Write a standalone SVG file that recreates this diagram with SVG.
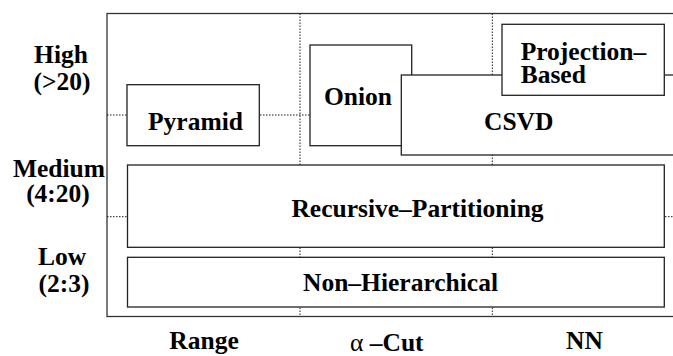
<svg xmlns="http://www.w3.org/2000/svg" width="673" height="356" viewBox="0 0 673 356">
<style>
text{font-family:"Liberation Serif","Times New Roman",serif;font-weight:bold;font-size:25.5px;fill:#000}
.mid{text-anchor:middle}
.sym{font-weight:normal}
.box{fill:#fff;stroke:#222;stroke-width:1.3}
.frame{fill:none;stroke:#333;stroke-width:1.3}
.dot{fill:none;stroke:#000;stroke-width:0.9;stroke-dasharray:1.5 1.5}
</style>
<rect width="673" height="356" fill="#fff"/>
<g id="frame"><rect class="frame" x="107" y="13.5" width="600" height="303"/></g>
<g id="connectors">
<line class="dot" x1="300" y1="13.5" x2="300" y2="316.5"/>
<line class="dot" x1="492.3" y1="13.5" x2="492.3" y2="316.5"/>
<line class="dot" x1="107" y1="115" x2="673" y2="115"/>
<line class="dot" x1="107" y1="216.7" x2="673" y2="216.7"/>
</g>
<g id="axis-y">
<text class="mid" x="61" y="63">High</text>
<text class="mid" x="62" y="89.5">(&gt;20)</text>
<text class="mid" x="59" y="176.5">Medium</text>
<text class="mid" x="58" y="201.5">(4:20)</text>
<text class="mid" x="62" y="265">Low</text>
<text class="mid" x="64" y="291.5">(2:3)</text>
</g>
<g id="axis-x">
<text class="mid" x="204" y="349">Range</text>
<text x="350" y="351"><tspan class="sym">α</tspan> –Cut</text>
<text class="mid" x="584.5" y="349">NN</text>
</g>
<g id="pyramid"><rect class="box" x="127" y="84.7" width="132.3" height="61"/><text class="mid" x="195.5" y="130">Pyramid</text></g>
<g id="onion"><rect class="box" x="310" y="45" width="101.7" height="100.7"/><text x="324" y="105">Onion</text></g>
<g id="csvd"><rect class="box" x="401.3" y="75" width="300" height="80"/><text class="mid" x="518.7" y="130">CSVD</text></g>
<g id="projection"><rect class="box" x="502" y="24.3" width="162.3" height="71"/><text x="520.7" y="60">Projection–</text><text x="520.7" y="83.3">Based</text></g>
<g id="recursive"><rect class="box" x="127.5" y="165" width="536.8" height="82.3"/><text class="mid" x="417.5" y="216.7">Recursive–Partitioning</text></g>
<g id="nonhier"><rect class="box" x="127.5" y="257.3" width="536.8" height="49.7"/><text class="mid" x="400.5" y="290.7">Non–Hierarchical</text></g>
</svg>
